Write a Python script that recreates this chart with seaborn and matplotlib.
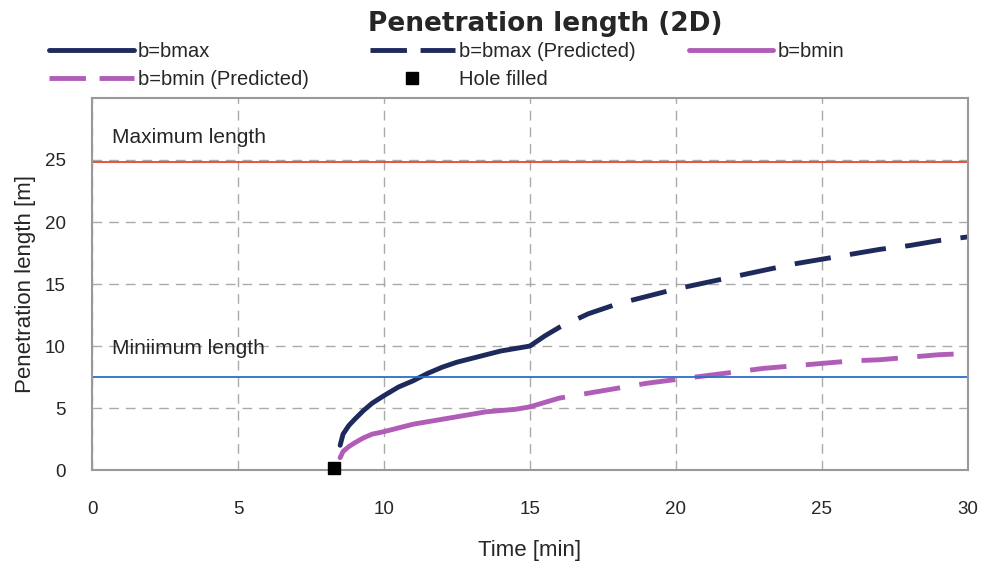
import pandas as pd
import matplotlib.pyplot as plt
import seaborn as sns
from matplotlib.lines import Line2D

t_bmax = [8.5, 8.6, 8.8, 9.0, 9.3, 9.6, 10.0, 10.5, 11.0, 11.5, 12.0, 12.5, 13.0, 13.5, 14.0, 14.5, 15.0]
L_bmax = [2.0, 2.9, 3.6, 4.1, 4.8, 5.4, 6.0, 6.7, 7.2, 7.8, 8.3, 8.7, 9.0, 9.3, 9.6, 9.8, 10.0]
t_bmax_pred = [15.0, 15.5, 16.0, 17.0, 18.0, 19.0, 20.0, 21.0, 22.0, 23.0, 24.0, 25.0, 26.0, 27.0, 28.0, 29.0, 30.0]
L_bmax_pred = [10.0, 10.8, 11.5, 12.6, 13.4, 14.0, 14.6, 15.1, 15.6, 16.1, 16.6, 17.0, 17.4, 17.8, 18.1, 18.5, 18.8]

t_bmin = [8.5, 8.6, 8.8, 9.0, 9.3, 9.6, 10.0, 10.5, 11.0, 11.5, 12.0, 12.5, 13.0, 13.5, 14.0, 14.5, 15.0]
L_bmin = [1.0, 1.5, 1.9, 2.2, 2.6, 2.9, 3.1, 3.4, 3.7, 3.9, 4.1, 4.3, 4.5, 4.7, 4.8, 4.9, 5.1]
t_bmin_pred = [15.0, 16.0, 17.0, 18.0, 19.0, 20.0, 21.0, 22.0, 23.0, 24.0, 25.0, 26.0, 27.0, 28.0, 29.0, 30.0]
L_bmin_pred = [5.1, 5.8, 6.2, 6.6, 7.0, 7.3, 7.6, 7.9, 8.2, 8.4, 8.6, 8.8, 8.9, 9.1, 9.3, 9.4]

hole_t = [8.3]
hole_L = [0.2]

max_length = 24.8
min_length = 7.5

navy = "#1f2a5c"
pink = "#b05db8"
dash = [7.5, 4]

sns.set_style("white")
plt.rcParams['font.family'] = ['Liberation Sans', 'DejaVu Sans']

fig = plt.figure(figsize=(9.84, 5.63), dpi=100)
ax = fig.add_axes([0.0935, 0.165, 0.89, 0.661])

df1 = pd.DataFrame({"t": t_bmax, "L": L_bmax})
df2 = pd.DataFrame({"t": t_bmax_pred, "L": L_bmax_pred})
df3 = pd.DataFrame({"t": t_bmin, "L": L_bmin})
df4 = pd.DataFrame({"t": t_bmin_pred, "L": L_bmin_pred})

sns.lineplot(data=df1, x="t", y="L", ax=ax, color=navy, lw=3.5)
sns.lineplot(data=df2, x="t", y="L", ax=ax, color=navy, lw=3.5).lines[-1].set_dashes(dash)
sns.lineplot(data=df3, x="t", y="L", ax=ax, color=pink, lw=3.5)
sns.lineplot(data=df4, x="t", y="L", ax=ax, color=pink, lw=3.5).lines[-1].set_dashes(dash)
ax.plot(hole_t, hole_L, "s", color="black", ms=9, clip_on=False, zorder=5)

ax.axhline(max_length, color="#e8452c", lw=1.3)
ax.axhline(min_length, color="#2a6fc9", lw=1.3)
ax.text(0.7, 26.4, "Maximum length", fontsize=15)
ax.text(0.7, 9.4, "Miniimum length", fontsize=15)

ax.set_xlim(0, 30)
ax.set_ylim(0, 30)
ax.set_xticks(range(0, 31, 5))
ax.set_yticks(range(0, 26, 5))
ax.tick_params(axis="x", labelsize=13.5, length=0, pad=22)
ax.tick_params(axis="y", labelsize=13.5, length=0, pad=19)
ax.grid(True, color="#aaaaaa", linestyle=(0, (7, 5)), lw=1)
for s in ax.spines.values():
    s.set_color("#999999")
    s.set_linewidth(1.5)
ax.set_xlabel("Time [min]", fontsize=16, labelpad=16)
ax.set_ylabel("Penetration length [m]", fontsize=16, labelpad=6)

fig.text(0.554, 0.957, "Penetration length (2D)", fontsize=19, fontweight="bold",
         ha="center", va="center", family=["DejaVu Sans"])

leg_dash = [7.5, 2.8]
h1 = Line2D([], [], color=navy, lw=3.5)
h2 = Line2D([], [], color=navy, lw=3.5, dashes=leg_dash)
h3 = Line2D([], [], color=pink, lw=3.5)
h4 = Line2D([], [], color=pink, lw=3.5, dashes=leg_dash)
h5 = Line2D([], [], color="black", marker="s", ls="none", ms=8)
legend_cols = [([h1, h4], ["b=bmax", "b=bmin (Predicted)"], 0.05),
               ([h2, h5], ["b=bmax (Predicted)", "Hole filled"], 0.376),
               ([h3], ["b=bmin"], 0.70)]
for hs, ls, x0 in legend_cols:
    fig.legend(hs, ls, loc="upper left", bbox_to_anchor=(x0, 0.925),
               frameon=False, fontsize=14.5, handlelength=4.2,
               handletextpad=0.2, labelspacing=0.45, borderaxespad=0, borderpad=0)

fig.savefig("out.png", dpi=100)
